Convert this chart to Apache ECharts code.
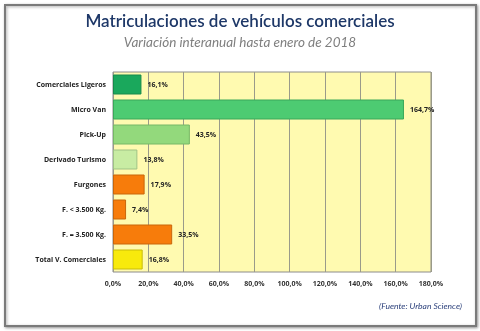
<!DOCTYPE html>
<html><head><meta charset="utf-8">
<script src="https://cdn.jsdelivr.net/npm/echarts@6/dist/echarts.min.js"></script>
<style>html,body{margin:0;padding:0;background:#fff}#c{width:480px;height:331px}</style>
</head><body><div id="c"></div>
<script>
const categories = ["Comerciales Ligeros","Micro Van","Pick-Up","Derivado Turismo","Furgones","F. < 3.500 Kg.","F. = 3.500 Kg.","Total V. Comerciales"];
const values = [16.1,164.7,43.5,13.8,17.9,7.4,33.5,16.8];
const barColors = ["#1aa85c","#4dcb72","#93d97c","#c8eca3","#f77c0b","#f77c0b","#f77c0b","#f8ea0c"];
const borderColors = ["#168a4c","#3aa85a","#76b866","#9fc285","#c9660a","#c9660a","#c9660a","#c8bc0a"];
const tickMax = 180, tickStep = 20;

const chart = echarts.init(document.getElementById('c'), null, {renderer:'canvas'});
const fmt = v => v.toFixed(1).replace('.', ',') + '%';
const lblFont = '"Open Sans", sans-serif';
chart.setOption({
  animation:false,
  graphic:[
    {type:'rect', shape:{x:5,y:5,width:471,height:321}, style:{fill:'#fff', stroke:'#7a7a7a', lineWidth:2, shadowBlur:3, shadowColor:'rgba(0,0,0,0.35)', shadowOffsetX:1, shadowOffsetY:1}, z:-10},
    {type:'text', left:'center', top:13, style:{text:'Matriculaciones de vehículos comerciales', font:'600 17px Lato, "Open Sans", sans-serif', fill:'#1e3868'}},
    {type:'text', left:'center', top:36, style:{text:'Variación interanual hasta enero de 2018', font:'italic 13.5px Lato, "Open Sans", sans-serif', fill:'#7f7f7f'}},
    {type:'text', right:18, top:302, style:{text:'(Fuente: Urban Science)', font:'italic 8.5px Lato, "Open Sans", sans-serif', fill:'#2a3f7a'}}
  ],
  grid:{left:113, right:49, top:72, bottom:59, show:true, backgroundColor:'#fffab0', borderColor:'#8c8c8c', borderWidth:1},
  xAxis:{type:'value', min:0, max:tickMax, interval:tickStep,
    axisLabel:{formatter:fmt, fontSize:7, fontWeight:'bold', color:'#333', fontFamily:lblFont, margin:8},
    axisLine:{show:false}, axisTick:{show:false},
    splitLine:{lineStyle:{color:'#9a9a8a', width:1}}},
  yAxis:{type:'category', data:categories, inverse:true,
    axisLabel:{fontSize:7, fontWeight:'bold', color:'#222', fontFamily:lblFont, margin:7},
    axisLine:{show:false}, axisTick:{show:false}},
  series:[{type:'bar', barCategoryGap:'20%',
    data: values.map((v,i)=>({value:v, itemStyle:{color:barColors[i], borderColor:borderColors[i], borderWidth:1}})),
    label:{show:true, position:'right', distance:6, formatter:p=>fmt(p.value), fontSize:7, fontWeight:'bold', color:'#222', fontFamily:lblFont}
  }]
});
</script></body></html>
